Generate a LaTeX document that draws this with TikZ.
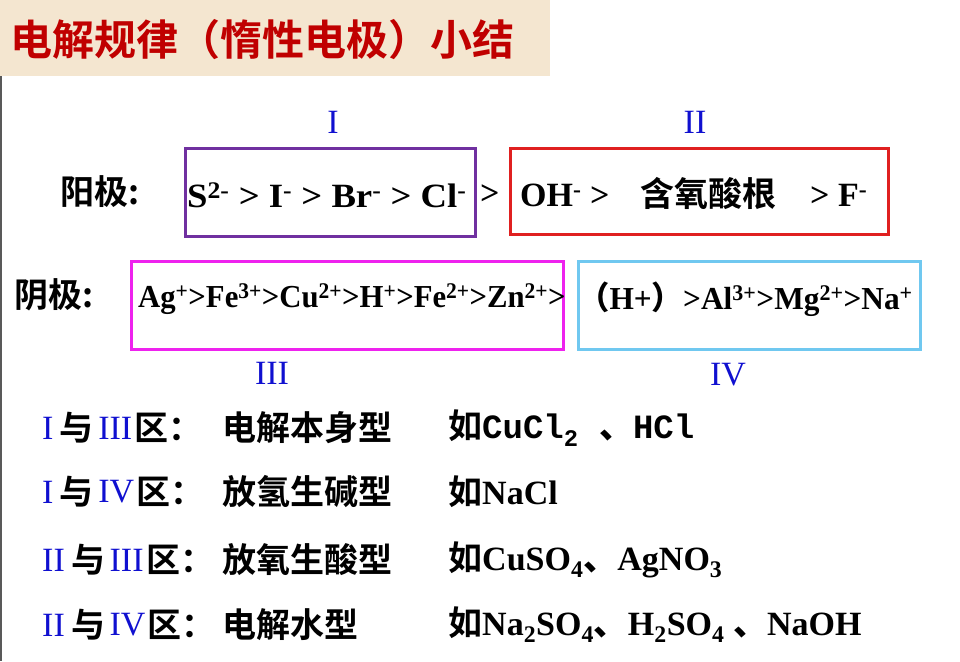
\documentclass[tikz,border=0pt]{standalone}
\usepackage{fontspec}
\setmainfont{Liberation Serif}
\newfontfamily\cjk{Noto Sans CJK SC Bold}
\newfontfamily\mono{Liberation Mono}
\definecolor{ttl}{HTML}{C00000}
\definecolor{bg}{HTML}{F4E6D0}
\definecolor{pur}{HTML}{7030A0}
\definecolor{rd}{HTML}{E02020}
\definecolor{mag}{HTML}{EE22EE}
\definecolor{cy}{HTML}{70C8F0}
\definecolor{rb}{HTML}{1010D0}
\begin{document}
\begin{tikzpicture}[x=1pt,y=-1pt,
  big/.style={font=\fontsize{34}{36}\selectfont\bfseries, inner sep=0pt, anchor=west},
  mid/.style={font=\fontsize{32}{34}\selectfont\bfseries, inner sep=0pt, anchor=west},
  row/.style={font=\fontsize{34}{36}\selectfont, inner sep=0pt, anchor=west},
  rom/.style={font=\fontsize{34}{36}\selectfont, text=rb, inner sep=0pt},
  boxst/.style={line width=3pt}]
\useasboundingbox (0,0) rectangle (960,661);
\fill[bg] (0,0) rectangle (550,76);
\draw[gray!70!black, line width=1.5pt] (1,76) -- (1,661);
\node[anchor=west, inner sep=0pt, text=ttl, font=\cjk\fontsize{42}{44}\selectfont] (title) at (10,40) {电解规律（惰性电极）小结};
% roman labels
\node[rom] (r1) at (333,122) {I};
\node[rom] (r2) at (695,122) {II};
\node[rom] (r3) at (272,373) {III};
\node[rom] (r4) at (728,375) {IV};
% anode
\draw[boxst, pur] (185,148) rectangle (475,236);
\draw[boxst, rd] (510,148) rectangle (888,234);
\node[row, font=\cjk\fontsize{34}{36}\selectfont] (yang) at (60,192) {阳极:};
\node[big] (an1) at (187,195) {\scalebox{1.08}[1]{S\textsuperscript{2-} > I\textsuperscript{-} > Br\textsuperscript{-} > Cl\textsuperscript{-}}};
\node[big] (an2) at (480,195) {>};
\node[big] (an3) at (520,195) {OH\textsuperscript{-} >};
\node[big, font=\cjk\fontsize{34}{36}\selectfont] (an4) at (640,193) {含氧酸根};
\node[big] (an5) at (810,195) {> F\textsuperscript{-}};
% cathode
\draw[boxst, mag] (131,261) rectangle (563,349);
\draw[boxst, cy] (578,261) rectangle (920,349);
\node[row, font=\cjk\fontsize{34}{36}\selectfont] (yin) at (14,295) {阴极:};
\node[mid] (ca1) at (138,299) {\scalebox{0.96}[1]{Ag\textsuperscript{+}>Fe\textsuperscript{3+}>Cu\textsuperscript{2+}>H\textsuperscript{+}>Fe\textsuperscript{2+}>Zn\textsuperscript{2+}>}};
\node[mid] (ca2) at (578,299) {\scalebox{0.98}[1]{{\cjk （}H+{\cjk ）}>Al\textsuperscript{3+}>Mg\textsuperscript{2+}>Na\textsuperscript{+}}};
% rows
\foreach \y/\a/\b/\t/\e [count=\i] in {
  428/I/III/电解本身型/{\mono\bfseries CuCl\textsubscript{2} {\cjk 、}HCl},
  492/I/IV/放氢生碱型/{\bfseries NaCl},
  560/II/III/放氧生酸型/{\bfseries CuSO\textsubscript{4}{\cjk 、}AgNO\textsubscript{3}},
  625/II/IV/电解水型/{\bfseries Na\textsubscript{2}SO\textsubscript{4}{\cjk 、}H\textsubscript{2}SO\textsubscript{4} {\cjk 、}NaOH}} {
  \node[rom, anchor=west] (ra\i) at (42,\y) {\a};
  \node[row, anchor=west] (rb\i) at ([xshift=6pt]ra\i.east) {\cjk 与};
  \node[rom, anchor=west] (rc\i) at ([xshift=4pt]rb\i.east) {\b};
  \node[row] (rd\i) at ([xshift=2pt]rc\i.east) {\cjk 区：};
  \node[row] (re\i) at (222,\y) {\cjk \t};
  \node[row] (rf\i) at (448,\y) {{\cjk 如}\e};
}
\end{tikzpicture}
\end{document}
